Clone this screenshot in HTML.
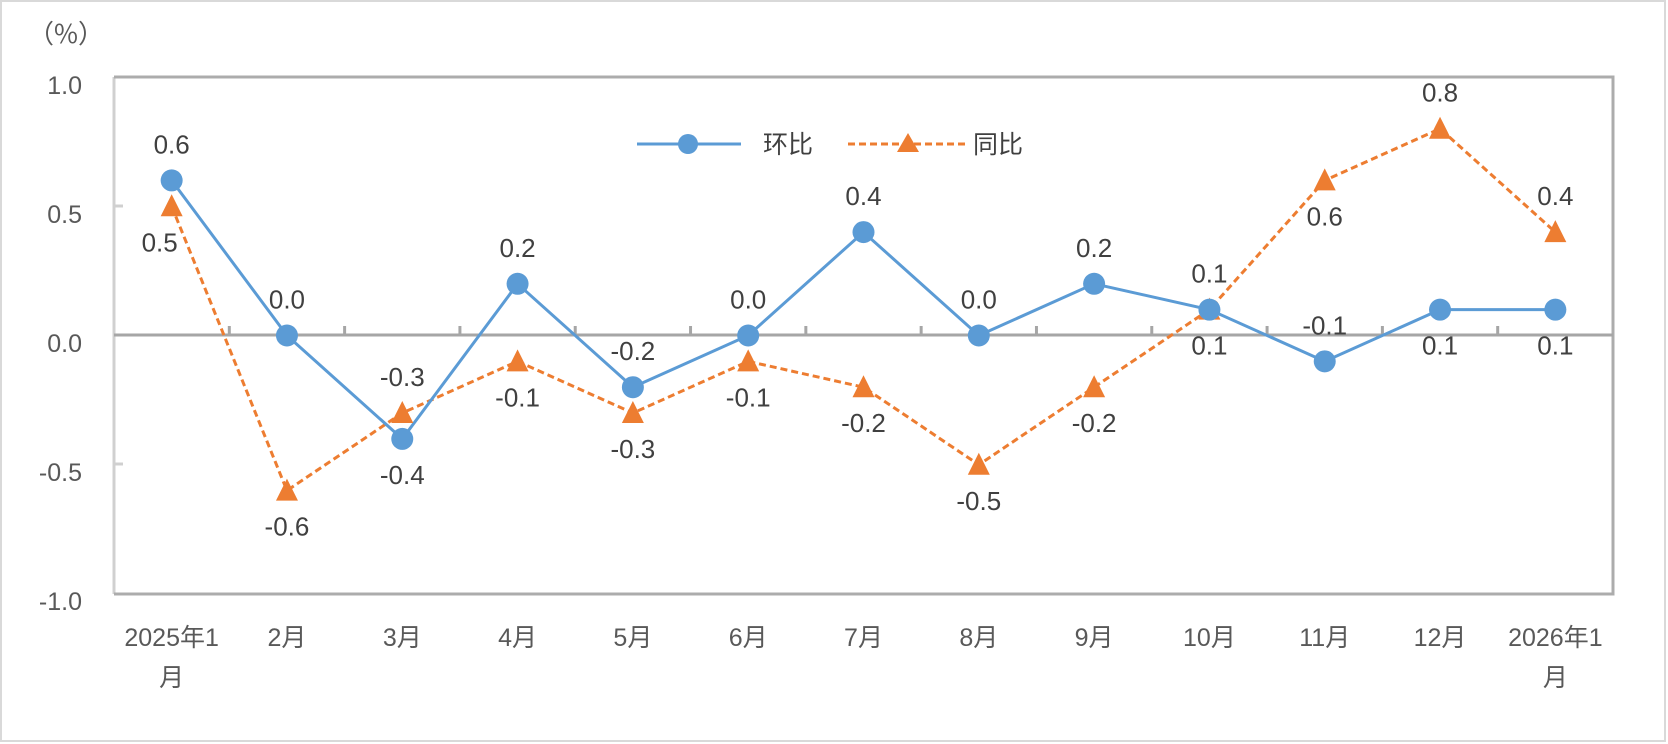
<!DOCTYPE html>
<html><head><meta charset="utf-8"><style>
body{margin:0;background:#fff}
svg{display:block}
text{font-family:"Liberation Sans","Noto Sans CJK SC",sans-serif}
</style></head><body>
<svg width="1668" height="744" viewBox="0 0 1668 744" xmlns="http://www.w3.org/2000/svg">
<rect x="1" y="1" width="1664" height="740" fill="#fff" stroke="#d9d9d9" stroke-width="2"/>
<text x="66" y="43" font-size="26" fill="#595959" text-anchor="middle" style="font-family:'Noto Sans CJK SC',sans-serif">（%）</text>
<g font-size="25" fill="#595959" text-anchor="end">
<text x="82" y="94">1.0</text>
<text x="82" y="223">0.5</text>
<text x="82" y="352">0.0</text>
<text x="82" y="481">-0.5</text>
<text x="82" y="610">-1.0</text>
</g>
<line x1="114" y1="77" x2="114" y2="594" stroke="#d0d0d0" stroke-width="3"/>
<g stroke="#d0d0d0" stroke-width="3">
<line x1="114" y1="77" x2="123" y2="77"/><line x1="114" y1="206" x2="123" y2="206"/><line x1="114" y1="464" x2="123" y2="464"/><line x1="114" y1="594" x2="123" y2="594"/>
</g>
<polyline points="114,77 1613,77 1613,594 114,594" fill="none" stroke="#acacac" stroke-width="3"/>
<line x1="114" y1="335" x2="1613" y2="335" stroke="#a6a6a6" stroke-width="3"/>
<g stroke="#a6a6a6" stroke-width="3" id="ticks"></g>
<g id="plot"></g>
<g font-size="25" fill="#595959" text-anchor="middle" id="xl"></g>
<line x1="637" y1="144" x2="741" y2="144" stroke="#5b9bd5" stroke-width="3"/>
<circle cx="688" cy="144" r="10" fill="#5b9bd5"/>
<text x="763" y="153" font-size="25" fill="#404040">环比</text>
<line x1="848" y1="144" x2="965" y2="144" stroke="#ed7d31" stroke-width="3" stroke-dasharray="7,4"/>
<polygon points="908,133 919,152 897,152" fill="#ed7d31"/>
<text x="973" y="153" font-size="25" fill="#404040">同比</text>
</svg>
<script>
const ns="http://www.w3.org/2000/svg";
function el(t,a,p,txt){const e=document.createElementNS(ns,t);for(const k in a)e.setAttribute(k,a[k]);if(txt!==undefined)e.textContent=txt;document.getElementById(p).appendChild(e);return e;}
const w=1499/13,X=i=>114+w*(i+0.5),Y=v=>335.5-258.5*v;
const hb=[0.6,0,-0.4,0.2,-0.2,0,0.4,0,0.2,0.1,-0.1,0.1,0.1];
const tb=[0.5,-0.6,-0.3,-0.1,-0.3,-0.1,-0.2,-0.5,-0.2,0.1,0.6,0.8,0.4];
const hpos=[-1,-1,1,-1,-1,-1,-1,-1,-1,-1,-1,1,1];
const tpos=[1,1,-1,1,1,1,1,1,1,1,1,-1,-1];
for(let i=1;i<13;i++){el('line',{x1:114+w*i,y1:326,x2:114+w*i,y2:335},'ticks');}
el('polyline',{points:tb.map((v,i)=>X(i)+','+Y(v)).join(' '),fill:'none',stroke:'#ed7d31','stroke-width':3,'stroke-dasharray':'7,4'},'plot');
el('polyline',{points:hb.map((v,i)=>X(i)+','+Y(v)).join(' '),fill:'none',stroke:'#5b9bd5','stroke-width':3},'plot');
tb.forEach((v,i)=>{const x=X(i),y=Y(v);el('polygon',{points:`${x},${y-12} ${x+11},${y+10} ${x-11},${y+10}`,fill:'#ed7d31'},'plot');});
hb.forEach((v,i)=>{el('circle',{cx:X(i),cy:Y(v),r:11,fill:'#5b9bd5'},'plot');});
const f=v=>v.toFixed(1);
hb.forEach((v,i)=>{el('text',{x:X(i),y:Y(v)+hpos[i]*36+9,'font-size':26,fill:'#404040','text-anchor':'middle'},'plot',f(v));});
tb.forEach((v,i)=>{el('text',{x:X(i)+(i==0?-12:0),y:Y(v)+tpos[i]*36+9,'font-size':26,fill:'#404040','text-anchor':'middle'},'plot',f(v));});
const lab=['2025年1','2月','3月','4月','5月','6月','7月','8月','9月','10月','11月','12月','2026年1'];
lab.forEach((s,i)=>{el('text',{x:X(i),y:646},'xl',s);if(i==0||i==12)el('text',{x:X(i),y:686},'xl','月');});
</script>
</body></html>
